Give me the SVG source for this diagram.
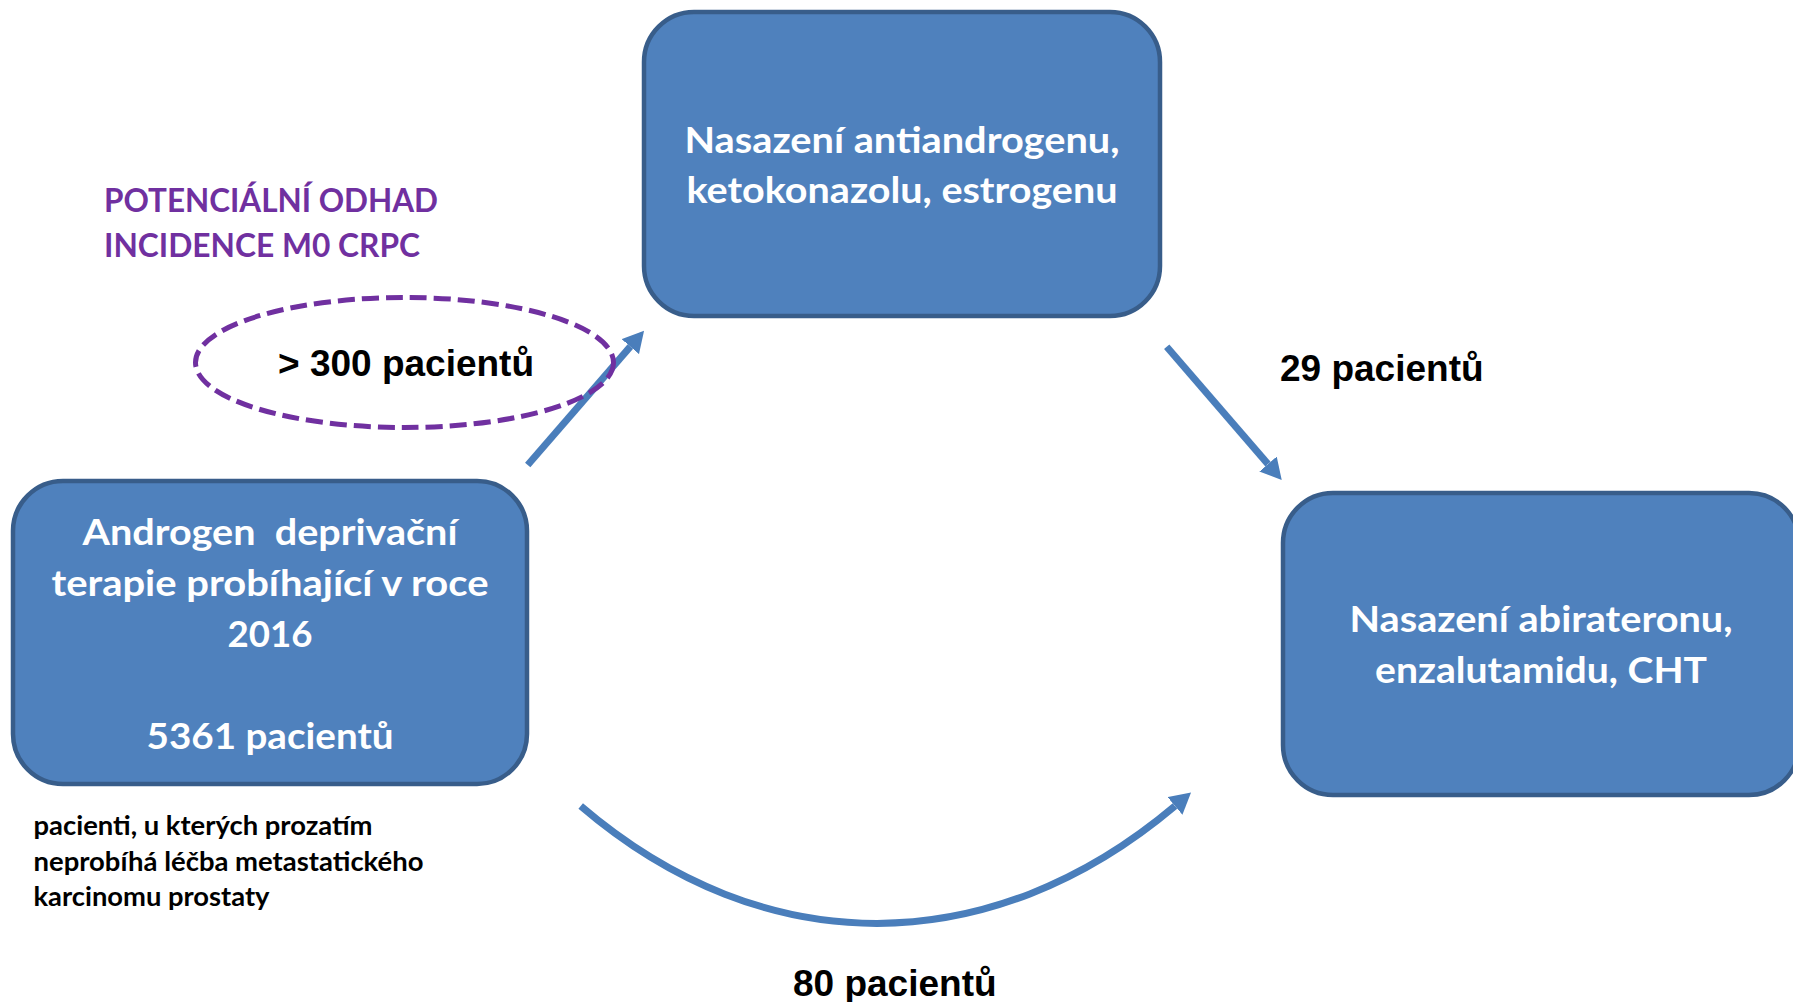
<svg xmlns="http://www.w3.org/2000/svg" width="1793" height="1002" viewBox="0 0 1793 1002">
<style>
  .box { fill: #4F81BD; stroke: #385D8A; stroke-width: 4.5; }
  .bt { font-family: "Lato", "Open Sans", sans-serif; font-weight: 700; font-size: 36px; fill: #FFFFFF; text-anchor: middle; }
  .title { font-family: "Lato", "Open Sans", sans-serif; font-weight: 700; font-size: 33px; fill: #7030A0; }
  .note { font-family: "Lato", "Open Sans", sans-serif; font-weight: 700; font-size: 27px; fill: #000000; }
  .num { font-family: "Liberation Sans", Arial, sans-serif; font-weight: 700; font-size: 37px; fill: #000000; }
  .conn { fill: none; stroke: #4A7EBB; stroke-width: 7; marker-end: url(#arrow); }
  .oval { fill: none; stroke: #7030A0; stroke-width: 5; stroke-dasharray: 17 7; }
</style>
<defs>
  <marker id="arrow" viewBox="0 0 10 10" refX="0" refY="5" markerUnits="userSpaceOnUse" markerWidth="21" markerHeight="23" orient="auto" preserveAspectRatio="none">
    <path d="M0,0 L10,5 L0,10 z" fill="#4A7EBB"/>
  </marker>
</defs>
<rect width="1793" height="1002" fill="#FFFFFF"/>

<g id="title">
  <text class="title" x="104" y="211.7" textLength="334" lengthAdjust="spacingAndGlyphs">POTENCIÁLNÍ ODHAD</text>
  <text class="title" x="104" y="256.7" textLength="316" lengthAdjust="spacingAndGlyphs">INCIDENCE M0 CRPC</text>
</g>

<g id="node-top">
  <rect class="box" x="644" y="12" width="516" height="304" rx="50" ry="50"/>
  <text class="bt" x="902" y="153.3" textLength="435" lengthAdjust="spacingAndGlyphs">Nasazení antiandrogenu,</text>
  <text class="bt" x="902" y="203.3" textLength="431" lengthAdjust="spacingAndGlyphs">ketokonazolu, estrogenu</text>
</g>

<g id="node-left">
  <rect class="box" x="13" y="481" width="514" height="303" rx="50" ry="50"/>
  <text class="bt" x="270" y="544.5" xml:space="preserve" textLength="375" lengthAdjust="spacingAndGlyphs">Androgen  deprivační</text>
  <text class="bt" x="270" y="595.5" textLength="437" lengthAdjust="spacingAndGlyphs">terapie probíhající v roce</text>
  <text class="bt" x="270" y="646.5" textLength="85" lengthAdjust="spacingAndGlyphs">2016</text>
  <text class="bt" x="270" y="748.5" textLength="247" lengthAdjust="spacingAndGlyphs">5361 pacientů</text>
</g>

<g id="node-right">
  <rect class="box" x="1283" y="493" width="516" height="302" rx="50" ry="50"/>
  <text class="bt" x="1541" y="632.3" textLength="383" lengthAdjust="spacingAndGlyphs">Nasazení abirateronu,</text>
  <text class="bt" x="1541" y="683.3" textLength="332" lengthAdjust="spacingAndGlyphs">enzalutamidu, CHT</text>
</g>

<g id="note-left">
  <text class="note" x="33.5" y="835" textLength="339" lengthAdjust="spacingAndGlyphs">pacienti, u kterých prozatím</text>
  <text class="note" x="33.5" y="871" textLength="390" lengthAdjust="spacingAndGlyphs">neprobíhá léčba metastatického</text>
  <text class="note" x="33.5" y="906" textLength="236" lengthAdjust="spacingAndGlyphs">karcinomu prostaty</text>
</g>

<g id="connectors">
  <path class="conn" d="M527.7,465 L630.3,346.6"/>
  <path class="conn" d="M1166.7,346.7 L1268,464.1"/>
  <path class="conn" d="M580.7,806 C764,963 990,962 1175,806"/>
</g>

<g id="estimate">
  <ellipse class="oval" cx="404.5" cy="362.5" rx="209" ry="65"/>
  <text class="num" x="278" y="376">&gt; 300 pacientů</text>
</g>

<g id="label-29">
  <text class="num" x="1280" y="380.5">29 pacientů</text>
</g>

<g id="label-80">
  <text class="num" x="793" y="995.5">80 pacientů</text>
</g>
</svg>
